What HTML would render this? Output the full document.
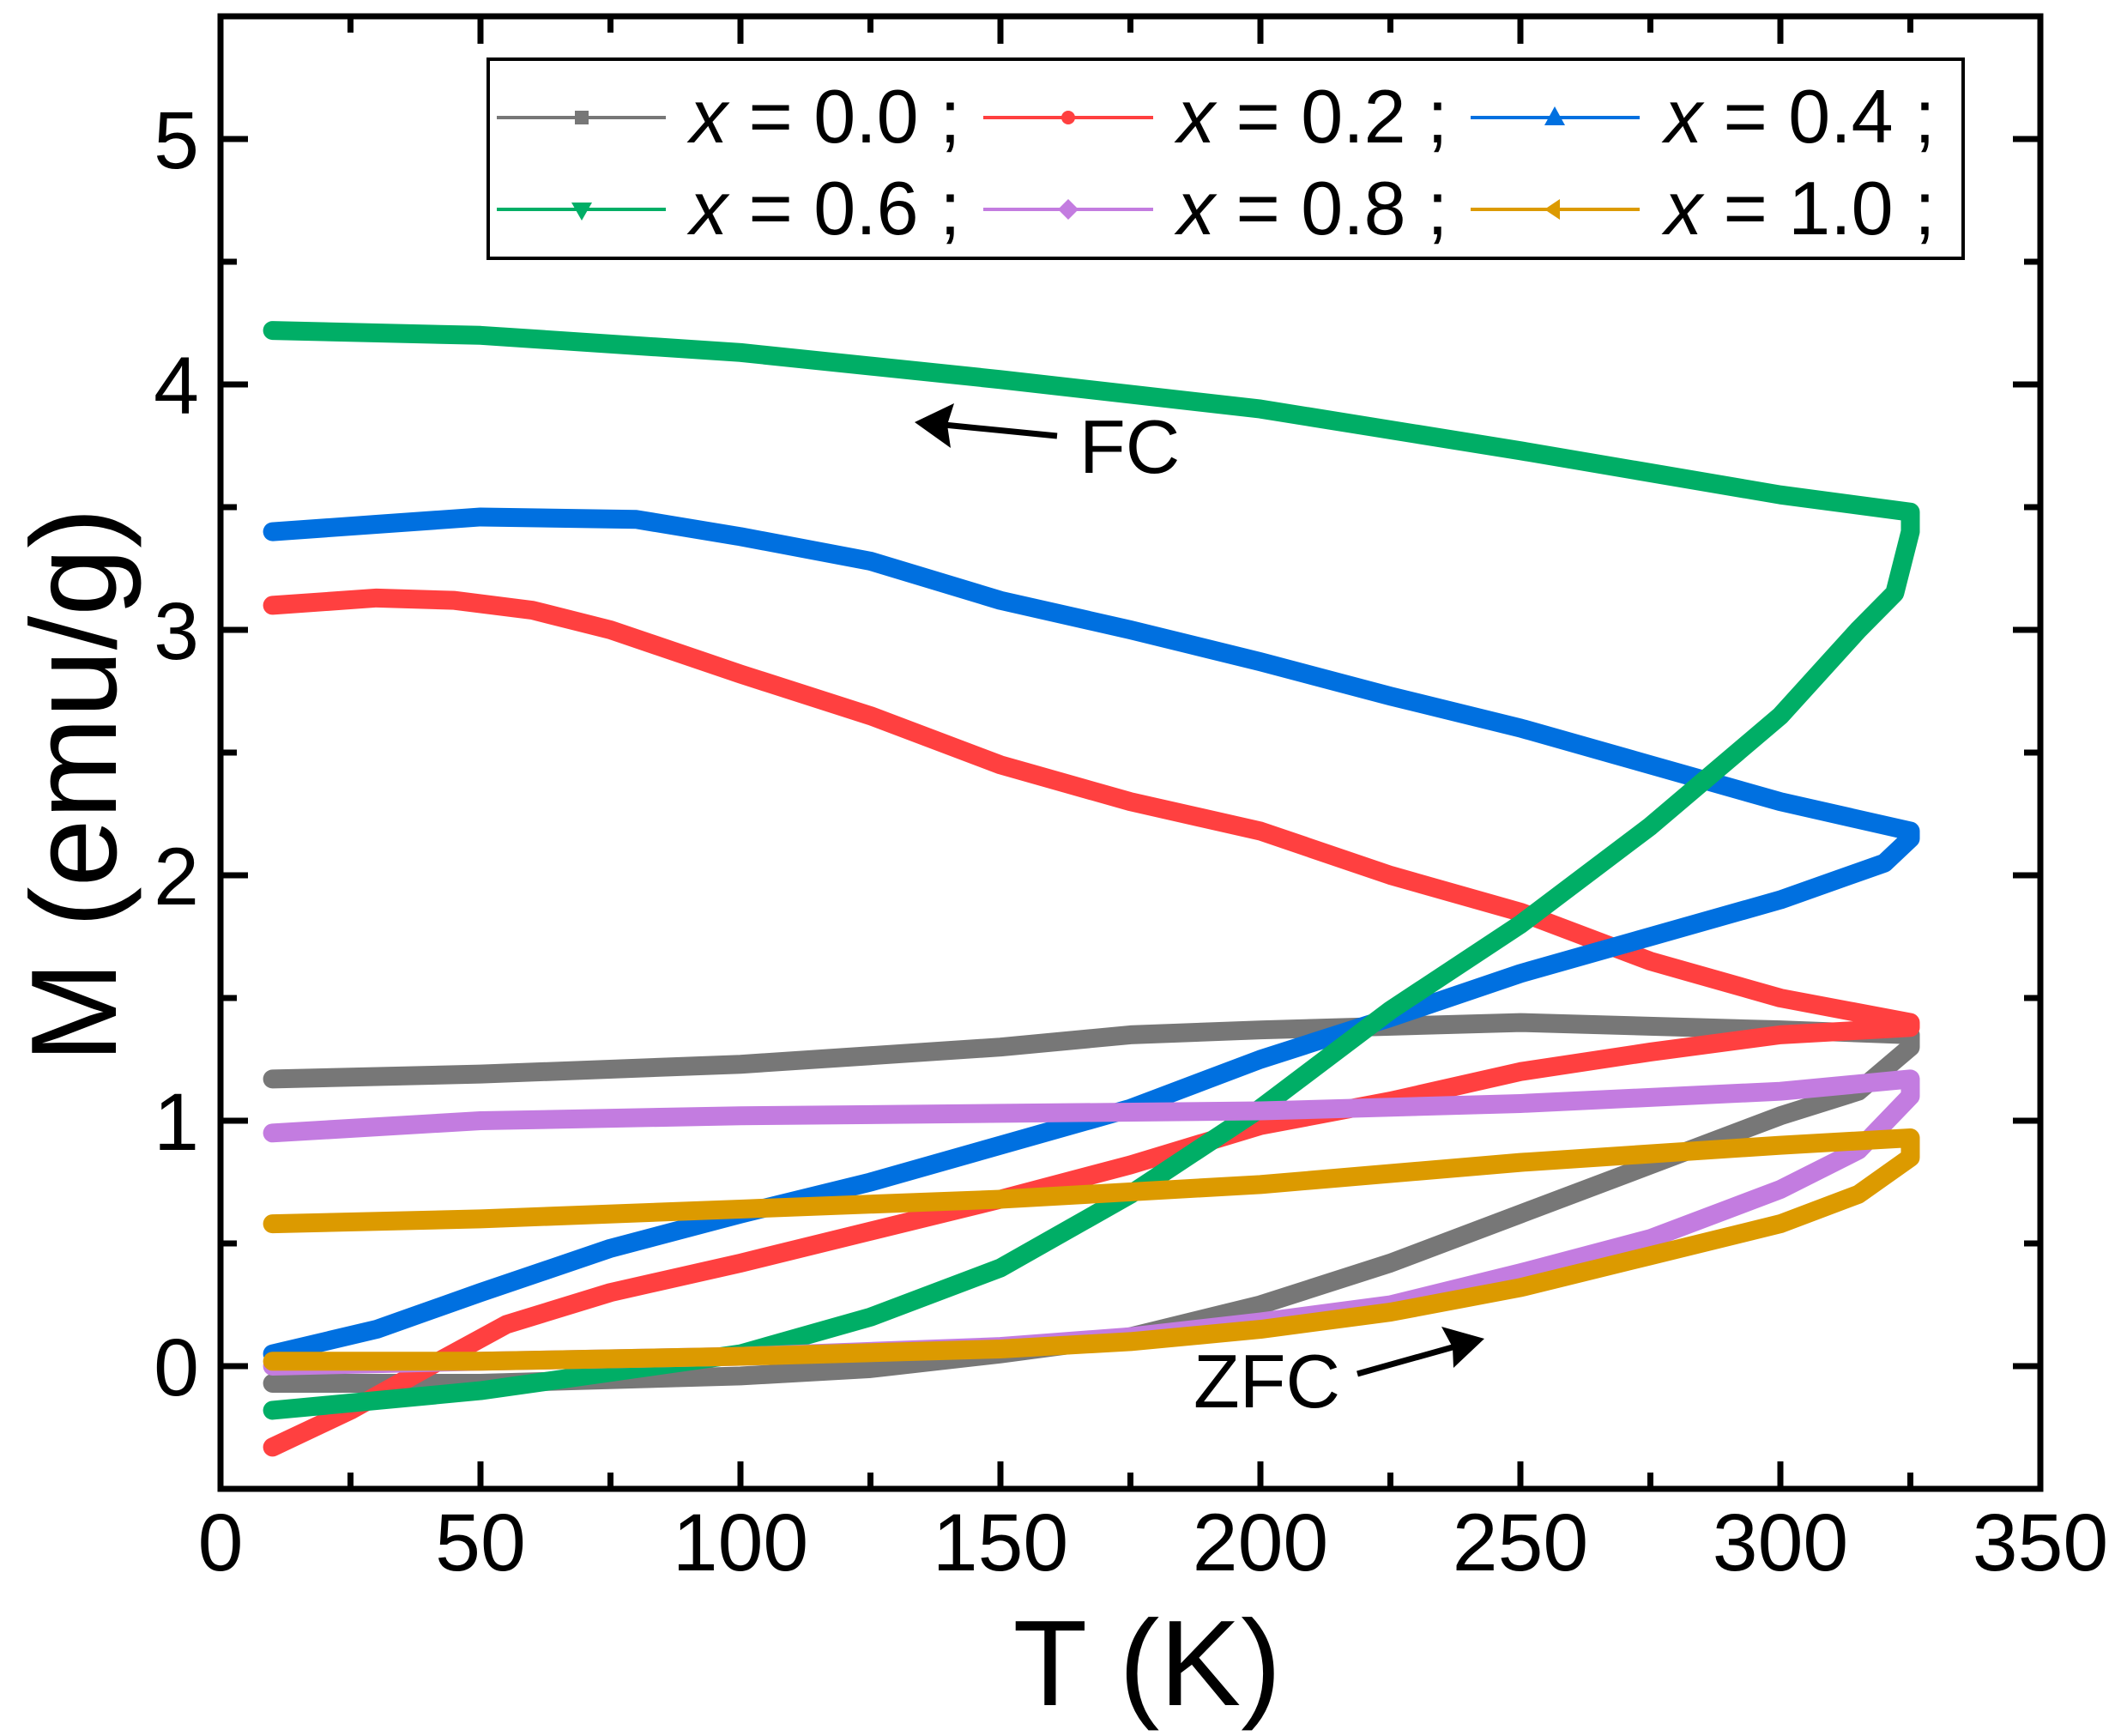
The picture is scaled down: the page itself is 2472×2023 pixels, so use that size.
<!DOCTYPE html>
<html><head><meta charset="utf-8"><style>
html,body{margin:0;padding:0;background:#fff;}
svg{display:block;}
text{font-family:"Liberation Sans",Arial,sans-serif;fill:#000;}
</style></head><body>
<svg width="2472" height="2023" viewBox="0 0 2472 2023" xmlns="http://www.w3.org/2000/svg">
<g transform="translate(257,1592) scale(6.06,-286)" fill="none" stroke-width="22" stroke-linejoin="round" stroke-linecap="round">
<polyline vector-effect="non-scaling-stroke" stroke="#777777" points="10,1.17 50,1.19 100,1.23 150,1.3 175,1.35 200,1.37 250,1.4 300,1.37 325,1.35 325,1.3 315,1.12 300,1.02 275,0.82 250,0.62 225,0.42 200,0.25 175,0.12 150,0.05 125,-0.01 100,-0.04 50,-0.07 10,-0.07"/>
<polyline vector-effect="non-scaling-stroke" stroke="#ff4040" points="10,3.1 30,3.13 45,3.12 60,3.08 75,3.0 100,2.82 125,2.65 150,2.45 175,2.3 200,2.18 225,2.0 250,1.85 275,1.65 300,1.5 325,1.4 325,1.38 300,1.35 275,1.28 250,1.2 225,1.08 200,0.98 175,0.82 150,0.68 125,0.55 100,0.42 75,0.3 55,0.17 42,0.02 25,-0.18 10,-0.33"/>
<polyline vector-effect="non-scaling-stroke" stroke="#0070e0" points="10,3.4 30,3.43 50,3.46 80,3.45 100,3.38 125,3.28 150,3.12 175,3.0 200,2.87 225,2.73 250,2.6 275,2.45 300,2.3 325,2.18 325,2.15 320,2.05 300,1.9 275,1.75 250,1.6 225,1.42 200,1.25 175,1.05 150,0.9 125,0.75 100,0.62 75,0.48 50,0.3 30,0.15 10,0.05"/>
<polyline vector-effect="non-scaling-stroke" stroke="#00ae66" points="10,4.22 50,4.2 100,4.13 150,4.02 200,3.9 250,3.73 300,3.55 325,3.48 325,3.4 322,3.15 315,3.0 300,2.65 275,2.2 250,1.8 225,1.45 200,1.05 175,0.7 150,0.4 125,0.2 100,0.05 50,-0.1 10,-0.18"/>
<polyline vector-effect="non-scaling-stroke" stroke="#c37ce0" points="10,0.95 50,1.0 100,1.02 150,1.03 200,1.04 250,1.07 300,1.12 325,1.17 325,1.1 315,0.88 300,0.72 275,0.52 250,0.38 225,0.25 200,0.18 175,0.12 150,0.08 100,0.04 50,0.02 10,0.0"/>
<polyline vector-effect="non-scaling-stroke" stroke="#dc9a00" points="10,0.58 50,0.6 100,0.64 150,0.68 200,0.74 250,0.83 300,0.9 325,0.93 325,0.85 315,0.7 300,0.58 275,0.45 250,0.32 225,0.22 200,0.15 175,0.1 150,0.07 100,0.04 50,0.02 10,0.02"/>
</g>
<rect x="257" y="19" width="2121" height="1716" fill="none" stroke="#000" stroke-width="7"/>
<g stroke="#000" stroke-width="7">
<path d="M560,1735v-32M863,1735v-32M1166,1735v-32M1469,1735v-32M1772,1735v-32M2075,1735v-32"/>
<path d="M408.5,1735v-19M711.5,1735v-19M1014.5,1735v-19M1317.5,1735v-19M1620.5,1735v-19M1923.5,1735v-19M2226.5,1735v-19"/>
<path d="M560,19v32M863,19v32M1166,19v32M1469,19v32M1772,19v32M2075,19v32"/>
<path d="M408.5,19v19M711.5,19v19M1014.5,19v19M1317.5,19v19M1620.5,19v19M1923.5,19v19M2226.5,19v19"/>
<path d="M257,1592h32M257,1306h32M257,1020h32M257,734h32M257,448h32M257,162h32"/>
<path d="M257,1449h19M257,1163h19M257,877h19M257,591h19M257,305h19"/>
<path d="M2378,1592h-32M2378,1306h-32M2378,1020h-32M2378,734h-32M2378,448h-32M2378,162h-32"/>
<path d="M2378,1449h-19M2378,1163h-19M2378,877h-19M2378,591h-19M2378,305h-19"/>
</g>
<g font-size="95" text-anchor="middle">
<text x="257" y="1830">0</text><text x="560" y="1830">50</text><text x="863" y="1830">100</text>
<text x="1166" y="1830">150</text><text x="1469" y="1830">200</text><text x="1772" y="1830">250</text>
<text x="2075" y="1830">300</text><text x="2378" y="1830">350</text>
</g>
<g font-size="95" text-anchor="end">
<text x="232" y="1626">0</text><text x="232" y="1340">1</text><text x="232" y="1054">2</text>
<text x="232" y="768">3</text><text x="232" y="482">4</text><text x="232" y="196">5</text>
</g>
<text x="1337" y="1987" font-size="142" text-anchor="middle">T (K)</text>
<text transform="translate(135,915) rotate(-90)" font-size="142" text-anchor="middle">M (emu/g)</text>
<text x="1258" y="551" font-size="88">FC</text>
<g stroke="#000" stroke-width="7" fill="#000">
<line x1="1232" y1="508" x2="1100" y2="495"/>
<polygon points="1066,492 1112,470 1104,495 1108,522" stroke="none"/>
<line x1="1582" y1="1601" x2="1700" y2="1568"/>
<polygon points="1730,1560 1694,1594 1693,1570 1680,1546" stroke="none"/>
</g>
<text x="1391" y="1640" font-size="88">ZFC</text>
<rect x="569" y="69" width="1719" height="232" fill="#fff" stroke="#000" stroke-width="4"/>
<g stroke-width="4">
<line x1="579" y1="137" x2="776" y2="137" stroke="#777777"/>
<rect x="670" y="129" width="16" height="16" fill="#777777" stroke="none"/>
<line x1="1146" y1="137" x2="1344" y2="137" stroke="#ff4040"/>
<circle cx="1245" cy="137" r="8" fill="#ff4040" stroke="none"/>
<line x1="1714" y1="137" x2="1911" y2="137" stroke="#0070e0"/>
<polygon points="1812,124 1824,146 1800,146" fill="#0070e0" stroke="none"/>
<line x1="579" y1="244" x2="776" y2="244" stroke="#00ae66"/>
<polygon points="666,236 690,236 678,257" fill="#00ae66" stroke="none"/>
<line x1="1146" y1="244" x2="1344" y2="244" stroke="#c37ce0"/>
<polygon points="1245,232 1257,244 1245,256 1233,244" fill="#c37ce0" stroke="none"/>
<line x1="1714" y1="244" x2="1911" y2="244" stroke="#dc9a00"/>
<polygon points="1800,244 1818,232 1818,256" fill="#dc9a00" stroke="none"/>
</g>
<g font-size="88">
<text x="804" y="166"><tspan font-style="italic">x</tspan> = 0.0 ;</text>
<text x="1372" y="166"><tspan font-style="italic">x</tspan> = 0.2 ;</text>
<text x="1940" y="166"><tspan font-style="italic">x</tspan> = 0.4 ;</text>
<text x="804" y="273"><tspan font-style="italic">x</tspan> = 0.6 ;</text>
<text x="1372" y="273"><tspan font-style="italic">x</tspan> = 0.8 ;</text>
<text x="1940" y="273"><tspan font-style="italic">x</tspan> = 1.0 ;</text>
</g>
</svg>
</body></html>
